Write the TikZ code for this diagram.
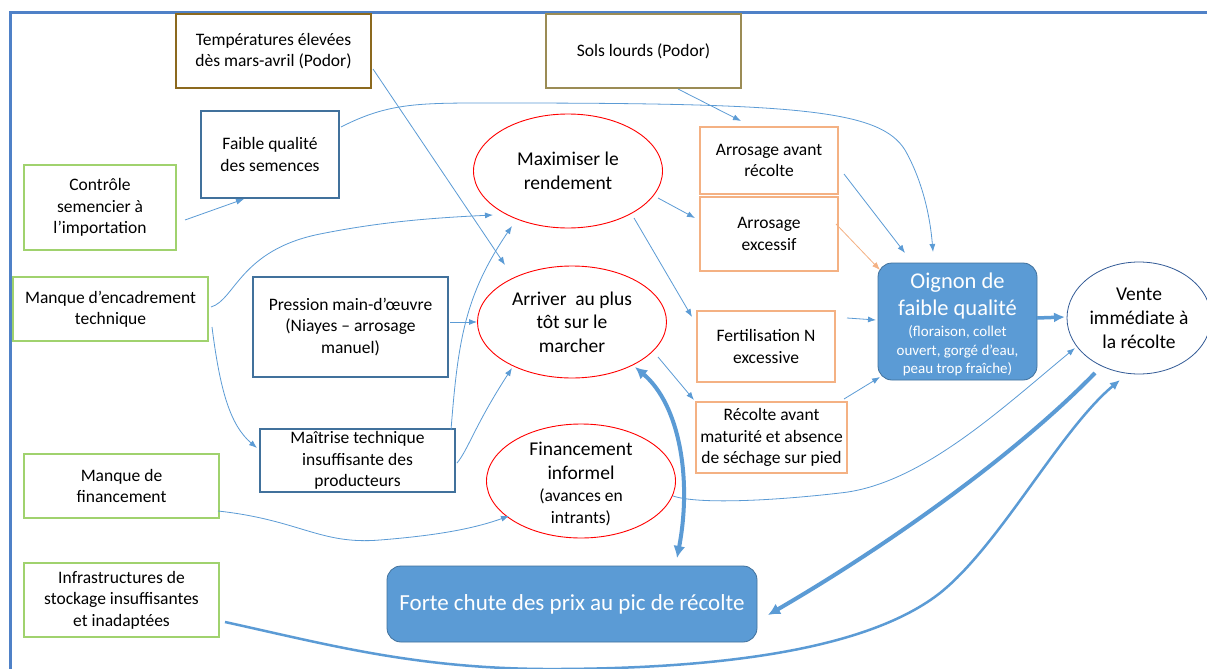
\documentclass[tikz,border=0pt]{standalone}
\usepackage{fontspec}
\setmainfont{Carlito}
\usetikzlibrary{arrows.meta,shapes.geometric,calc}
\definecolor{lblue}{RGB}{91,155,213}
\definecolor{dblue}{RGB}{65,113,156}
\definecolor{framec}{RGB}{79,129,199}
\definecolor{greenc}{RGB}{160,210,110}
\definecolor{orangec}{RGB}{244,177,131}
\definecolor{brownc}{RGB}{140,105,30}
\definecolor{olivec}{RGB}{155,140,85}
\definecolor{navyc}{RGB}{50,90,150}
\begin{document}
\begin{tikzpicture}[x=1pt,y=-1pt,
  box/.style={draw, line width=1.1pt, inner sep=0pt, align=center, font=\fontsize{17.5}{21.5}\selectfont, text=black},
  ell/.style={ellipse, draw=red, line width=0.9pt, inner sep=0pt, align=center, font=\fontsize{19.5}{23.5}\selectfont},
  fillbox/.style={rounded corners=14pt, fill=lblue, draw=dblue, line width=0.8pt, inner sep=0pt},
  txt/.style={inner sep=0pt, align=center},
  conn/.style={draw=lblue, line width=0.8pt, -{Latex[length=8pt,width=6pt]}},
  heavy/.style={draw=lblue, line width=4pt, -{Latex[length=12pt,width=12pt]}},
  medium/.style={draw=lblue, line width=2.5pt, -{Latex[length=10pt,width=9pt]}}
]
\useasboundingbox (0,0) rectangle (1207,669);
\clip (0,0) rectangle (1207,669);
\fill[white] (0,0) rectangle (1207,669);
\draw[framec, line width=2.2pt] (1220,12.5) -- (10.5,12.5) -- (10.5,680);

% boxes
\node[box, draw=brownc, minimum width=195, minimum height=74] (temp) at (273.5,51) {Températures élevées\\dès mars-avril (Podor)};
\node[box, draw=olivec, minimum width=195, minimum height=74] (sols) at (643.5,51) {Sols lourds (Podor)};
\node[box, draw=dblue, minimum width=138, minimum height=87] (sem) at (270,154.5) {Faible qualité\\des semences};
\node[box, draw=greenc, minimum width=152, minimum height=85] (ctrl) at (100,207.5) {Contrôle\\semencier à\\l’importation};
\node[box, draw=greenc, minimum width=195, minimum height=64] (enc) at (110.5,309) {Manque d’encadrement\\technique};
\node[box, draw=dblue, minimum width=195, minimum height=100] (pres) at (350.5,327) {Pression main-d'œuvre\\(Niayes – arrosage\\manuel)};
\node[box, draw=dblue, minimum width=195, minimum height=63] (mait) at (357.5,460.5) {Maîtrise technique\\insuffisante des\\producteurs};
\node[box, draw=greenc, minimum width=195, minimum height=64] (fin) at (121.5,486) {Manque de\\financement};
\node[box, draw=greenc, minimum width=195, minimum height=74] (infra) at (121.5,600) {Infrastructures de\\stockage insuffisantes\\et inadaptées};

\node[ell, minimum width=189, minimum height=114] (max) at (568,171) {Maximiser le\\rendement};
\node[ell, minimum width=189, minimum height=112] (arr) at (572,322) {Arriver\ \ au plus\\tôt sur le\\marcher};
\node[ell, minimum width=189, minimum height=114] (finf) at (581,481) {};
\node[txt, font=\fontsize{19.5}{23.5}\selectfont] (finfA) at (581,461) {Financement\\informel};
\node[txt, font=\fontsize{17.5}{22}\selectfont] (finfB) at (581,507) {(avances en\\intrants)};

\node[box, draw=orangec, minimum width=138, minimum height=67] (arav) at (769,160.5) {Arrosage avant\\récolte};
\node[box, draw=orangec, minimum width=138, minimum height=74] (arex) at (769,234) {Arrosage\\excessif};
\node[box, draw=orangec, minimum width=138, minimum height=71] (fert) at (766,346.5) {Fertilisation N\\excessive};
\node[box, draw=orangec, minimum width=151, minimum height=71] (recm) at (771.5,437.5) {Récolte avant\\maturité et absence\\de séchage sur pied};

\node[fillbox, minimum width=159, minimum height=117] (oig) at (957.5,321.5) {};
\node[txt, text=white, font=\fontsize{22.5}{27}\selectfont] (oigA) at (957.5,295.5) {Oignon de\\faible qualité};
\node[txt, text=white, font=\fontsize{15}{18.5}\selectfont] (oigB) at (957.5,351) {(floraison, collet\\ouvert, gorgé d’eau,\\peau trop fraîche)};

\node[ellipse, draw=navyc, line width=0.8pt, inner sep=0pt, align=center, minimum width=144, minimum height=112, font=\fontsize{19.5}{24}\selectfont] (vente) at (1139,318) {Vente\\immédiate à\\la récolte};

\node[fillbox, minimum width=370, minimum height=76, text=white, font=\fontsize{23}{27}\selectfont] (forte) at (572,604) {Forte chute des prix au pic de récolte};

% connectors
\draw[conn] ($(temp)+(99.5,18)$) -- ($(arr)+(-67,-57)$);
\draw[conn] ($(sem)+(71,-27.5)$) .. controls (390,102) and (420,103) .. (500,103) .. controls (800,103) and (880,110) .. (905,150) .. controls (922,180) and (930,215) .. ($(oig)+(-24.5,-69.5)$);
\draw[conn] ($(ctrl)+(85,12.5)$) -- ($(sem)+(-26,44.5)$);
\draw[conn] ($(enc)+(100.5,-2)$) .. controls (235,300) and (240,250) .. (320,234) .. controls (380,222) and (430,218) .. ($(max)+(-75,44)$);
\draw[conn] ($(enc)+(101.5,18)$) .. controls (220,390) and (230,425) .. ($(mait)+(-100.5,-12.5)$);
\draw[conn] ($(pres)+(99.5,-5)$) -- ($(arr)+(-95,0)$);
\draw[conn] ($(mait)+(93.5,-30.5)$) .. controls (458,340) and (465,295) .. ($(max)+(-56,55)$);
\draw[conn] ($(mait)+(99.5,2.5)$) .. controls (468,450) and (475,425) .. ($(arr)+(-60,46)$);
\draw[conn] ($(fin)+(96.5,25)$) .. controls (300,520) and (320,545) .. (380,540) .. controls (430,536) and (470,530) .. ($(finf)+(-72,35)$);
\draw[conn] ($(max)+(90,27)$) -- ($(arex)+(-74,-16)$);
\draw[conn] ($(max)+(66,47)$) -- ($(fert)+(-74,-29.5)$);
\draw[conn] ($(arr)+(86,35)$) -- ($(recm)+(-77.5,-37.5)$);
\draw[conn] ($(sols)+(34.5,38)$) -- ($(arav)+(-28,-39.5)$);
\draw[conn] ($(arav)+(75,13.5)$) -- ($(oig)+(-52.5,-68.5)$);
\draw[conn, draw=orangec] ($(arex)+(67,-10)$) -- ($(oig)+(-77.5,-51.5)$);
\draw[conn] ($(fert)+(81,-28.5)$) -- ($(oig)+(-81.5,-1.5)$);
\draw[conn] ($(recm)+(72.5,-38.5)$) -- ($(oig)+(-77.5,55.5)$);
\draw[draw=lblue, line width=3.5pt, -{Latex[length=11pt,width=10pt]}] ($(oig)+(79.5,-3.5)$) -- ($(vente)+(-74,-1)$);
\draw[conn] ($(finf)+(92,15)$) .. controls (700,505) and (780,500) .. (840,493) .. controls (920,485) and (1000,410) .. ($(vente)+(-64,30)$);
\draw[draw=lblue, line width=4pt, {Latex[length=12pt,width=12pt]}-{Latex[length=12pt,width=12pt]}] ($(arr)+(63,45)$) .. controls (680,405) and (692,480) .. ($(forte)+(105,-46)$);
\draw[heavy] ($(vente)+(-44,55)$) .. controls (1010,460) and (880,550) .. ($(forte)+(196,11)$);
\draw[medium] ($(infra)+(103.5,22)$) .. controls (330,645) and (420,670) .. (560,669) .. controls (760,668) and (880,640) .. (940,593) .. controls (1000,545) and (1060,430) .. ($(vente)+(-19,62)$);
\end{tikzpicture}
\end{document}
